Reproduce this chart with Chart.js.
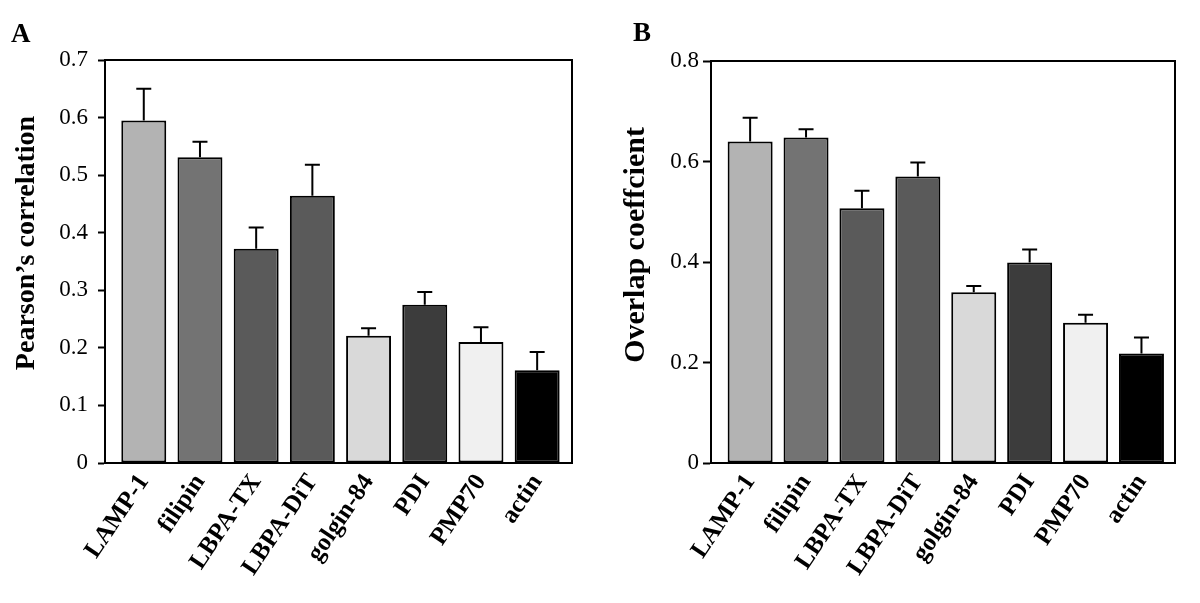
<!DOCTYPE html>
<html>
<head>
<meta charset="utf-8">
<script src="https://cdn.jsdelivr.net/npm/chart.js@4.4.1/dist/chart.umd.min.js"></script>
<style>
  body{margin:0;background:#fff;width:1200px;height:603px;position:relative;overflow:hidden;}
  .pane{position:absolute;top:0;width:600px;height:603px;}
  .lbl{position:absolute;font:bold 27px "Liberation Serif","Times New Roman",serif;line-height:27px;color:#000;}
</style>
</head>
<body>
<div class="pane" style="left:0"><canvas id="chartA" width="600" height="603"></canvas></div>
<div class="pane" style="left:600px"><canvas id="chartB" width="600" height="603"></canvas></div>
<div class="lbl" style="left:11px;top:20px">A</div>
<div class="lbl" style="left:633px;top:19px">B</div>
<script>
// categories + values
const markers = ['LAMP-1','filipin','LBPA-TX','LBPA-DiT','golgin-84','PDI','PMP70','actin'];
const barColors = ['#b3b3b3','#737373','#5a5a5a','#5a5a5a','#d9d9d9','#3c3c3c','#f0f0f0','#000000'];
const pearson    = [0.595, 0.531, 0.372, 0.464, 0.221, 0.275, 0.210, 0.161];
const pearsonErr = [0.055, 0.027, 0.037, 0.054, 0.013, 0.022, 0.026, 0.032];
const overlap    = [0.640, 0.648, 0.507, 0.570, 0.340, 0.399, 0.279, 0.218];
const overlapErr = [0.047, 0.016, 0.035, 0.028, 0.012, 0.026, 0.016, 0.032];
const ticksA = [0,0.1,0.2,0.3,0.4,0.5,0.6,0.7];
const ticksB = [0,0.2,0.4,0.6,0.8];

const serif = '"Liberation Serif", "Times New Roman", serif';
Chart.defaults.font.family = serif;
Chart.defaults.color = '#000';

// error bars (upper only), box frame, y title
const errPlugin = {
  id:'errbars',
  afterDatasetsDraw(chart){
    const ctx = chart.ctx, ys = chart.scales.y;
    const o = chart.options.plugins.errbars;
    const vals = chart.data.datasets[0].data;
    chart.getDatasetMeta(0).data.forEach((bar,i)=>{
      const top = ys.getPixelForValue(vals[i].y + o.err[i]);
      ctx.save();
      ctx.strokeStyle='#000'; ctx.lineWidth=2;
      ctx.beginPath();
      ctx.moveTo(bar.x, bar.y); ctx.lineTo(bar.x, top);
      ctx.moveTo(bar.x-7.5, top); ctx.lineTo(bar.x+7.5, top);
      ctx.stroke();
      ctx.restore();
    });
    const a = chart.chartArea;
    ctx.save();
    ctx.strokeStyle='#000'; ctx.lineWidth=2;
    ctx.strokeRect(a.left, a.top, a.right-a.left, a.bottom-a.top);
    ctx.restore();
    // y axis title
    ctx.save();
    ctx.translate(o.titleX, o.titleY);
    ctx.rotate(-Math.PI/2);
    ctx.font = 'bold ' + o.titleSize + 'px ' + serif;
    ctx.fillStyle = '#000';
    ctx.textAlign = 'center';
    ctx.textBaseline = 'middle';
    ctx.fillText(o.title, 0, 0);
    ctx.restore();
  }
};

function makeChart(id, vals, errs, yTicks, yMax, yTitle, opt){
  new Chart(document.getElementById(id), {
    type:'bar',
    data:{
      datasets:[{
        data: vals.map((v,i)=>({x:i, y:v})),
        backgroundColor: barColors,
        borderColor:'#000',
        borderWidth:2,
        borderSkipped:false,
        categoryPercentage:1,
        barPercentage:opt.barPct
      }]
    },
    options:{
      responsive:false,
      animation:false,
      devicePixelRatio:1,
      layout:{padding:{left:0, right:opt.padRight, top:opt.padTop, bottom:0}},
      plugins:{
        legend:{display:false}, tooltip:{enabled:false},
        errbars:{err:errs, title:yTitle, titleX:opt.titleX, titleY:opt.titleY, titleSize:opt.titleSize}
      },
      scales:{
        x:{
          type:'linear',
          offset:false,
          min:opt.xMin, max:opt.xMax,
          afterBuildTicks: s => { s.ticks = markers.map((m,i)=>({value:i})); },
          afterFit: s => { s.height = 140; },
          grid:{display:false, drawTicks:false},
          border:{color:'#000', width:2},
          ticks:{
            autoSkip:false, minRotation:56, maxRotation:56,
            padding:opt.xPad, labelOffset:opt.labelOffset,
            font:{size:25, weight:'bold'},
            callback: v => markers[v]
          }
        },
        y:{
          min:0, max:yMax,
          afterBuildTicks: s => { s.ticks = yTicks.map(v=>({value:v})); },
          afterFit: s => { s.width = opt.yWidth; },
          grid:{drawOnChartArea:false, drawTicks:true, tickLength:opt.tickLen, tickWidth:2, tickColor:'#000'},
          border:{color:'#000', width:2},
          ticks:{padding:opt.yPad, font:{size:23}, callback: v => String(v)}
        }
      }
    },
    plugins:[errPlugin]
  });
}

makeChart('chartA', pearson, pearsonErr, ticksA, 0.7, 'Pearson\u2019s correlation',
  {xMin:-0.69, xMax:7.62, barPct:0.80, padRight:28, padTop:60, yWidth:105,
   tickLen:7, yPad:10, xPad:6, labelOffset:0, titleX:27, titleY:243, titleSize:28});
makeChart('chartB', overlap, overlapErr, ticksB, 0.8, 'Overlap coeffcient',
  {xMin:-0.70, xMax:7.60, barPct:0.805, padRight:25, padTop:61, yWidth:111,
   tickLen:8, yPad:4, xPad:6, labelOffset:0, titleX:36, titleY:245, titleSize:30});
</script>
</body>
</html>
